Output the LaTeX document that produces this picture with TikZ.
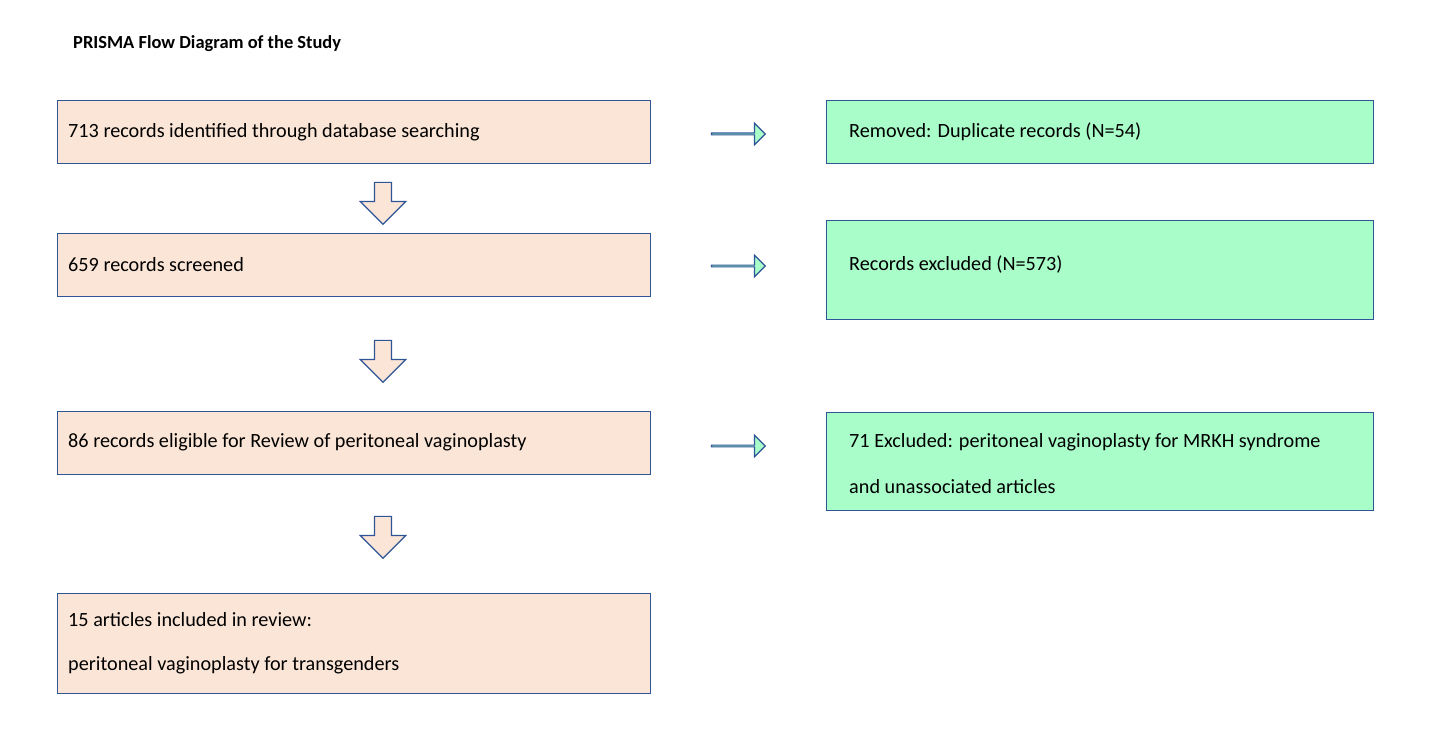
\documentclass[tikz,border=0pt]{standalone}
\usepackage{fontspec}
\setmainfont{Carlito}
\usetikzlibrary{shapes.arrows}
\definecolor{peach}{HTML}{FBE5D6}
\definecolor{mint}{HTML}{A9FDC9}
\definecolor{frame}{HTML}{2F5597}
\begin{document}
\begin{tikzpicture}[x=0.02cm, y=-0.02cm]
    \tikzstyle{stage} = [rectangle, draw=frame, fill=peach, line width=0.8pt, anchor=north west, inner sep=0pt]
    \tikzstyle{removed} = [rectangle, draw=frame, fill=mint, line width=0.8pt, anchor=north west, inner sep=0pt]
    \tikzstyle{label} = [anchor=west, font=\fontsize{11.5}{14}\selectfont]
    \tikzstyle{down} = [single arrow, draw=frame, fill=peach, line width=0.7pt, shape border rotate=270, minimum width=36\pgflinewidth, single arrow head extend=8pt, minimum height=42*0.567pt, inner sep=0pt, text width=16*0.567pt]
    \tikzstyle{side} = [single arrow, draw=frame, fill=mint, line width=0.7pt, minimum height=54*0.567pt, single arrow head extend=4pt, inner sep=0pt, text width=0pt, minimum width=22*0.567pt]
    \useasboundingbox (0,0) rectangle (1435,749);

    % Title
    \node [anchor=west, font=\bfseries\fontsize{10.5}{12}\selectfont] (title) at (67,44) {PRISMA Flow Diagram of the Study};

    % Study stages
    \node [stage, minimum width=595*0.567pt, minimum height=63*0.567pt] (found) at (57,100) {};
    \node [stage, minimum width=595*0.567pt, minimum height=63*0.567pt] (screened) at (57,233) {};
    \node [stage, minimum width=595*0.567pt, minimum height=63*0.567pt] (eligible) at (57,411) {};
    \node [stage, minimum width=595*0.567pt, minimum height=100*0.567pt] (included) at (57,593) {};
    \node [label] (foundtxt) at (62,132) {713 records identified through database searching};
    \node [label] (screenedtxt) at (62,265) {659 records screened};
    \node [label] (eligibletxt) at (62,442) {86 records eligible for Review of peritoneal vaginoplasty};
    \node [label] (includedtxt) at (62,620) {15 articles included in review:};
    \node [label] (includedtxtb) at (62,665) {peritoneal vaginoplasty for transgenders};

    % Exclusions
    \node [removed, minimum width=549*0.567pt, minimum height=63*0.567pt] (dupes) at (826,100) {};
    \node [removed, minimum width=549*0.567pt, minimum height=99*0.567pt] (excluded) at (826,220) {};
    \node [removed, minimum width=549*0.567pt, minimum height=98*0.567pt] (mrkh) at (826,412) {};
    \node [label] (dupestxt) at (843,132) {Removed: Duplicate records (N=54)};
    \node [label] (excludedtxt) at (843,265) {Records excluded (N=573)};
    \node [label] (mrkhtxt) at (843,442) {71 Excluded: peritoneal vaginoplasty for MRKH syndrome};
    \node [label] (mrkhtxtb) at (843,487) {and unassociated articles};

    % Block arrows
    \node [down] (d1) at (383,199) {};
    \node [down] (d2) at (383,357) {};
    \node [down] (d3) at (383,533) {};
    \node [side] (s1) at (738,134) {};
    \node [side] (s2) at (738,266) {};
    \node [side] (s3) at (738,446) {};
\end{tikzpicture}
\end{document}
